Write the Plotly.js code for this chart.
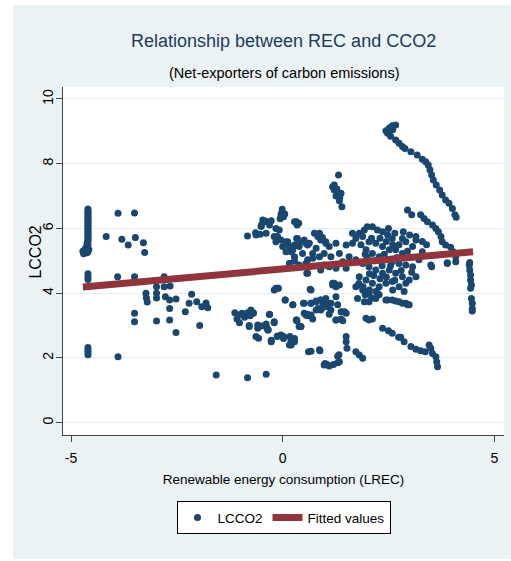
<!DOCTYPE html>
<html>
<head>
<meta charset="utf-8">
<script src="https://cdn.plot.ly/plotly-3.0.1.min.js"></script>
<style>
html,body{margin:0;padding:0;background:#ffffff;}
#chart{position:absolute;left:13px;top:5px;width:498px;height:554px;}
</style>
</head>
<body>
<div id="chart"></div>
<script>
var lrec = [
-4.6,-4.6,-4.6,-4.6,-4.6,-4.6,-4.6,-4.6,-4.6,-4.6,-4.6,-4.6,-4.6,-4.6,-4.6,-4.6,-4.6,-4.6,-4.6,-4.6,-4.6,-4.62,-4.6,-4.63,-4.65,-4.67,-4.65,-4.62,-4.6,-4.58,-4.72,-4.7,-4.6,-4.6,-4.6,-4.6,-4.6,-4.6,-4.6,
-4.17,-3.89,-3.5,-3.8,-3.65,-3.48,-3.29,-3.26,-3.9,-3.5,-3.5,-3.5,-3.89,
-3.23,-3.22,-3.2,-2.98,-2.98,-2.98,-2.98,-2.8,-2.8,-2.77,-2.66,-2.67,-2.67,-2.67,-2.52,-2.52,-2.3,-2.21,-2.15,-2.03,-1.96,-1.91,-1.81,-1.77,
-1.57,-0.83,-0.39,
-1.04,-1.02,-0.96,-0.9,-0.83,-0.77,-0.69,-0.79,-1.13,-1.08,-0.71,
-0.59,-0.5,-0.39,-0.57,-0.34,-0.31,-0.2,-0.27,-0.12,-0.02,0.17,0.24,0.2,0.28,0.33,0.24,0.06,-0.16,-0.1,0.43,0.49,0.55,0.61,-0.79,-0.37,-0.13,0.02,-0.63,-0.35,-0.04,0.16,-0.75,-0.7,-0.59,-0.2,-0.31,
-0.83,-0.64,-0.53,-0.39,-0.5,-0.39,-0.27,-0.16,-0.08,-0.04,-0.01,0.02,-0.06,-0.12,-0.04,0,0.08,0.16,0.2,0.28,0.33,0.32,0.38,0.39,0.47,0.55,0.17,0.28,0.59,-0.47,-0.31,-0.63,-0.2,-0.16,0.12,0.24,0.08,0.28,0.39,0.51,0.63,0.75,0.83,0.9,1.02,1.1,1.26,0.79,0.71,0.87,0.98,1.14,1.42,1.5,0.9,0.59,0.55,0.39,0.16,1.65,1.5,1.34,1.57,1.65,1.73,0.35,0.59,0.87,0.94,1.02,0.71,0.57,0.98,1.1,1.26,1.18,-0.51,-0.41,0.28,0.34,0.05,-0.02,
1.32,1.18,1.22,1.22,1.3,1.26,1.35,1.38,1.34,1.4,1.28,1.33,
1.81,1.93,2.0,2.12,2.24,2.36,2.48,2.59,2.83,2.91,3.15,3.07,1.89,2.04,2.2,2.36,2.52,2.67,2.83,1.97,2.12,2.28,2.44,2.59,2.75,2.91,3.07,3.22,1.89,2.04,2.2,2.36,2.52,2.67,2.83,2.99,3.15,1.81,1.97,2.12,2.28,2.44,2.59,2.75,2.87,2.91,1.89,2.04,2.24,1.77,1.93,2.04,2.2,2.44,2.59,2.75,2.91,2.99,1.73,1.81,1.73,3.5,3.89,4.09,3.3,3.15,3.52,
2.1,2.3,2.45,2.6,2.7,2.4,2.2,2.0,2.55,2.35,2.15,2.45,2.65,2.8,3.0,2.75,2.95,1.85,1.95,2.05,2.3,2.6,3.05,2.5,2.65,2.85,3.0,3.3,3.4,
-0.2,-0.12,0.67,0.06,0.24,0.51,0.67,0.79,0.9,1.02,1.14,1.26,1.3,1.38,1.5,1.18,1.26,0.9,0.79,0.67,0.51,1.14,1.06,1.26,1.38,0.32,0.39,0.59,0.65,0.67,0.79,0.9,1.02,0.83,0.94,0.59,0.71,0.34,0.43,0.2,0.28,1.22,1.34,0.95,1.1,1.46,1.26,1.42,
0.67,0.88,1.0,1.05,0.98,1.1,1.2,1.3,1.34,1.5,1.5,1.52,1.73,1.81,1.89,1.3,1.33,0.87,0.2,-0.27,0.02,
1.97,2.04,2.12,2.36,2.5,2.59,2.74,2.87,3.03,3.15,3.26,3.37,3.46,3.5,3.54,3.62,3.64,3.66,2.79,
1.8,1.9,2.05,2.2,2.28,2.1,1.95,2.48,2.67,2.83,2.95,
2.44,2.52,2.59,2.67,2.48,2.55,2.67,2.75,2.83,2.89,3.03,3.18,3.3,3.38,3.44,3.48,3.52,3.56,3.63,3.71,3.77,3.85,3.93,4.01,4.07,4.1,2.6,
2.95,3.05,3.26,3.34,3.42,3.54,3.62,3.68,3.74,3.77,3.85,3.97,4.03,4.09,3.89,
4.41,4.42,4.44,4.44,4.46,4.44,4.46,4.48,4.48,4.48,4.42
];
var lcco2 = [
6.6,6.55,6.5,6.45,6.4,6.35,6.3,6.25,6.2,6.15,6.1,6.05,6.0,5.95,5.9,5.85,5.8,5.75,5.7,5.65,5.6,5.55,5.5,5.45,5.4,5.35,5.3,5.25,5.28,5.35,5.3,5.22,4.6,4.5,4.42,2.32,2.25,2.18,2.1,
5.75,6.47,6.48,5.67,5.49,5.72,5.56,5.26,4.51,4.51,3.38,3.12,2.04,
4.0,3.85,3.73,4.2,4.0,3.85,3.14,4.51,4.2,3.89,4.22,3.79,3.53,3.17,3.82,2.79,3.43,3.69,3.97,3.74,3.0,3.58,3.7,3.55,
1.47,1.39,1.5,
3.33,3.09,3.38,3.26,3.4,3.3,3.38,3.0,3.4,3.2,3.38,
2.92,2.99,3.05,2.61,2.86,3.34,3.09,2.5,2.68,2.68,2.66,2.55,2.4,2.5,3.17,3.64,3.79,4.15,4.15,2.97,3.69,3.33,2.19,2.97,2.92,2.66,2.6,2.66,2.86,2.71,2.4,3.48,3.4,3.02,3.12,3.35,
5.77,5.87,5.82,5.85,6.11,6.21,6.24,6.0,5.95,6.42,6.59,6.36,6.3,5.75,5.64,5.44,5.59,5.44,5.28,5.49,5.69,6.21,6.16,5.44,5.23,5.54,4.92,5.0,5.03,6.26,6.11,5.8,5.75,5.59,5.59,5.34,5.28,5.13,5.54,5.64,5.54,5.85,5.75,5.64,5.59,5.44,5.54,5.39,5.23,5.13,5.23,5.13,4.97,4.77,4.72,4.62,4.92,4.87,4.92,5.54,5.49,5.23,5.13,5.85,5.69,5.69,5.49,5.85,5.72,5.54,5.08,4.62,4.87,4.82,4.77,4.31,6.06,6.23,6.21,6.11,6.45,6.5,
7.65,7.29,7.34,7.19,7.1,7.0,6.96,7.09,6.86,6.67,7.22,7.05,
5.85,5.95,6.05,6.05,5.95,5.9,5.8,5.69,5.69,5.59,5.64,5.44,5.75,5.59,5.54,5.44,5.34,5.34,5.23,5.34,5.23,5.13,5.03,4.97,4.92,4.87,4.82,5.03,4.92,4.82,4.72,4.62,4.72,4.62,4.51,4.41,4.51,4.51,4.41,4.31,4.2,4.31,4.36,4.2,4.05,4.31,4.1,4.0,4.0,3.84,3.74,3.74,3.84,3.79,3.79,3.74,3.69,3.64,4.2,4.25,5.03,4.87,4.92,4.97,5.28,5.75,4.82,
5.7,5.7,5.6,5.5,5.1,5.2,5.0,5.1,4.85,4.85,4.55,4.5,4.4,4.7,5.1,5.5,5.3,5.5,5.2,4.6,4.45,4.1,4.65,6.0,5.85,5.9,5.8,5.6,5.5,
4.1,4.15,4.1,3.79,3.64,3.69,3.69,3.74,3.79,3.84,3.69,3.89,3.64,3.43,3.38,4.25,4.2,3.48,3.48,3.33,3.38,3.48,3.58,3.17,3.2,3.17,2.97,3.3,4.12,3.69,3.76,3.79,3.72,3.53,3.55,3.35,3.2,3.14,2.97,2.5,2.6,4.31,4.25,3.65,3.35,3.43,3.17,3.15,
2.21,2.22,1.83,1.8,1.78,1.75,1.8,1.85,1.88,2.66,2.5,2.3,2.19,2.09,1.99,2.05,2.1,2.25,2.55,2.55,2.66,
3.23,3.17,3.2,2.92,2.84,2.76,2.64,2.5,2.35,2.27,2.22,2.19,2.4,2.3,2.14,2.04,1.88,1.73,2.64,
4.3,4.2,4.1,4.05,3.95,3.85,3.95,3.79,3.76,3.69,3.64,
9.02,9.1,9.17,9.2,8.94,8.85,8.73,8.63,8.53,8.47,8.37,8.27,8.14,8.06,7.96,7.81,7.65,7.5,7.34,7.19,7.03,6.88,6.78,6.62,6.42,6.35,9.05,
6.57,6.42,6.42,6.31,6.21,6.11,6.0,5.9,5.75,5.59,5.49,5.42,5.28,5.13,4.94,
4.87,4.72,4.56,4.41,4.25,4.15,3.84,3.69,3.53,3.45,4.95
];
// Fitted values (linear fit) at the ends of the LREC range
var fitX = [-4.72, 4.50];
var fitY = [4.19, 5.28];

var xTicks = [-5, 0, 5];
var yTicks = [0, 2, 4, 6, 8, 10];

var FONT = '"Liberation Sans", Arial, sans-serif';

var traces = [
  {
    type: 'scatter', mode: 'markers', name: 'LCCO2',
    x: lrec, y: lcco2,
    marker: {color: '#1A476F', size: 7, line: {width: 0}}
  },
  {
    type: 'scatter', mode: 'lines', name: 'Fitted values',
    x: fitX, y: fitY,
    line: {color: '#90353B', width: 7}
  }
];

var layout = {
  width: 498, height: 554,
  paper_bgcolor: '#EAF2F3',
  plot_bgcolor: '#FFFFFF',
  margin: {l: 50, r: 7, t: 82, b: 124},
  font: {family: FONT, size: 14, color: '#000000'},
  showlegend: true,
  xaxis: {
    range: [-5.19, 5.23],
    tickvals: xTicks,
    ticktext: xTicks.map(String),
    showgrid: false, zeroline: false,
    showline: true, linecolor: '#444444', linewidth: 1,
    ticks: 'outside', ticklen: 6, tickcolor: '#444444',
    ticklabelstandoff: 4,
    tickfont: {family: FONT, size: 14, color: '#000000'},
    title: {text: 'Renewable energy consumption (LREC)', font: {family: FONT, size: 13.5, color: '#000000'}, standoff: 9}
  },
  yaxis: {
    range: [-0.38, 10.37],
    tickvals: yTicks,
    ticktext: yTicks.map(String),
    tickangle: -90,
    showgrid: true, gridcolor: '#E6EEF1', gridwidth: 1,
    zeroline: false,
    showline: true, linecolor: '#444444', linewidth: 1,
    ticks: 'outside', ticklen: 6, tickcolor: '#444444',
    ticklabelstandoff: -3,
    tickfont: {family: FONT, size: 14, color: '#000000'}
  },
  legend: {
    orientation: 'h', x: 0.5, xanchor: 'center', y: -0.19, yanchor: 'top',
    bgcolor: '#FFFFFF', bordercolor: '#000000', borderwidth: 1,
    font: {family: FONT, size: 13.5, color: '#000000'}
  },
  annotations: [
    {text: 'Relationship between REC and CCO2', xref: 'paper', yref: 'paper', x: 0.5, y: 1.132,
     xanchor: 'center', yanchor: 'middle', showarrow: false,
     font: {family: FONT, size: 18, color: '#1E3A5F'}},
    {text: '(Net-exporters of carbon emissions)', xref: 'paper', yref: 'paper', x: 0.5, y: 1.04,
     xanchor: 'center', yanchor: 'middle', showarrow: false,
     font: {family: FONT, size: 14.5, color: '#000000'}},
    {text: 'LCCO2', xref: 'paper', yref: 'paper', x: -0.062, y: 0.526, textangle: -90,
     xanchor: 'center', yanchor: 'middle', showarrow: false,
     font: {family: FONT, size: 16, color: '#000000'}}
  ]
};

Plotly.newPlot('chart', traces, layout, {displayModeBar: false, staticPlot: true});
</script>
</body>
</html>
